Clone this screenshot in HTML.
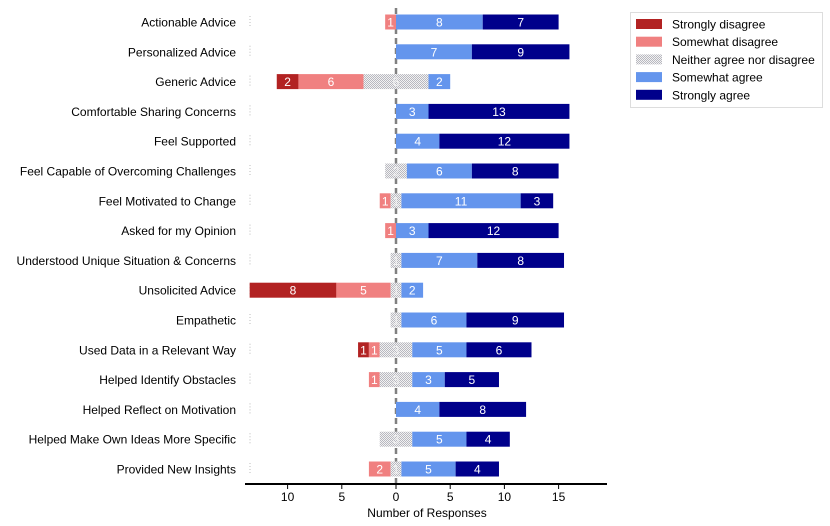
<!DOCTYPE html>
<html><head><meta charset="utf-8"><style>
body{margin:0;background:#fff;}
svg{display:block;font-family:"Liberation Sans","DejaVu Sans",sans-serif;}
</style></head><body>
<svg id="chart" width="830" height="526">
<defs>
<pattern id="neutral" width="2" height="2" patternUnits="userSpaceOnUse">
<rect width="2" height="2" fill="#f2f2f2"/><rect width="1" height="1" fill="#b8b8c0"/><rect x="1" y="1" width="1" height="1" fill="#b8b8c0"/>
</pattern>
</defs>
<g id="plot"></g>
<g>
<rect x="630.5" y="12.5" width="192" height="95" fill="#fff" stroke="#bbb" stroke-dasharray="1,1"/>
<g id="legend-items"></g>
</g>
</svg>
<script>
const categories=["Actionable Advice","Personalized Advice","Generic Advice","Comfortable Sharing Concerns","Feel Supported","Feel Capable of Overcoming Challenges","Feel Motivated to Change","Asked for my Opinion","Understood Unique Situation & Concerns","Unsolicited Advice","Empathetic","Used Data in a Relevant Way","Helped Identify Obstacles","Helped Reflect on Motivation","Helped Make Own Ideas More Specific","Provided New Insights"];
const stronglyDisagree=[0,0,2,0,0,0,0,0,0,8,0,1,0,0,0,0];
const somewhatDisagree=[1,0,6,0,0,0,1,1,0,5,0,1,1,0,0,2];
const neutral=[0,0,6,0,0,2,1,0,1,1,1,3,3,0,3,1];
const somewhatAgree=[8,7,2,3,4,6,11,3,7,2,6,5,3,4,5,5];
const stronglyAgree=[7,9,0,13,12,8,3,12,8,0,9,6,5,8,4,4];
const xTicks=[-10,-5,0,5,10,15];
const seriesNames=["Strongly disagree","Somewhat disagree","Neither agree nor disagree","Somewhat agree","Strongly agree"];
const colors=["#b22222","#f08080","url(#neutral)","#6495ed","#00008b"];

const NS="http://www.w3.org/2000/svg";
const x0=396, ppu=10.84;
const X=v=>x0+v*ppu;
const Y=i=>22+i*29.8;
const barH=15;
const plot=document.getElementById('plot');
function mk(tag,attrs,parent){const e=document.createElementNS(NS,tag);for(const k in attrs)e.setAttribute(k,attrs[k]);(parent||plot).appendChild(e);return e;}

// zero line
const zl=mk('line',{x1:x0,x2:x0,y1:8,y2:484,stroke:'#808080','stroke-width':2.5,'stroke-dasharray':'6,4'});



categories.forEach((c,i)=>{
  const y=Y(i);
  const lab=mk('text',{x:236,y:y+4.5,'text-anchor':'end','font-size':12,fill:'#000'});
  lab.textContent=c;
  
  
  const tk=mk('line',{x1:250,x2:250,y1:y-6,y2:y+6,stroke:'#bbb','stroke-dasharray':'1,2'});
  
  
  const vals=[stronglyDisagree[i],somewhatDisagree[i],neutral[i],somewhatAgree[i],stronglyAgree[i]];
  let left=-(vals[0]+vals[1]+vals[2]/2);
  vals.forEach((v,s)=>{
    if(v<=0){return;}
    const r=mk('rect',{x:X(left),y:y-barH/2,width:v*ppu,height:barH,fill:colors[s]});
    
    
    const t=mk('text',{x:X(left+v/2),y:y+4.5,'text-anchor':'middle','font-size':12,fill:s==2?'#f4f4f4':'#fff'});
    t.textContent=v;
    
    
    left+=v;
  });
});

// x axis
const ax=mk('line',{x1:245,x2:607,y1:484,y2:484,stroke:'#000','stroke-width':2});


xTicks.forEach(v=>{
  const l=mk('line',{x1:X(v),x2:X(v),y1:484,y2:489,stroke:'#000','stroke-width':1});
  
  
  const t=mk('text',{x:X(v),y:501,'text-anchor':'middle','font-size':12});
  t.textContent=Math.abs(v);
  
  
});
const xt=mk('text',{x:427,y:517,'text-anchor':'middle','font-size':12});
xt.textContent='Number of Responses';



const lg=document.getElementById('legend-items');
seriesNames.forEach((n,s)=>{
  const y=24+s*17.7;
  const r=mk('rect',{x:636,y:y-5,width:26,height:10,fill:colors[s]},lg);
  
  
  const t=mk('text',{x:672,y:y+4.5,'font-size':12},lg);
  t.textContent=n;
  
  
});
</script>
</body></html>
